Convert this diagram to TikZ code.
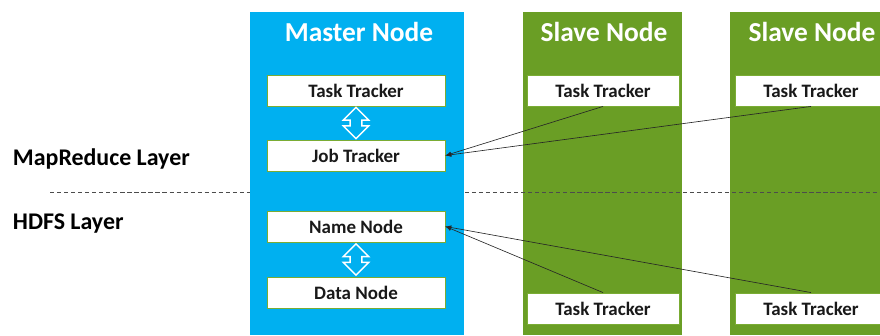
\documentclass[tikz,border=0pt]{standalone}
\usepackage{fontspec}
\setmainfont{Carlito}
\usetikzlibrary{shapes.arrows, calc}
\definecolor{MasterBlue}{RGB}{0, 176, 240}
\definecolor{SlaveGreen}{RGB}{106, 158, 37}
\definecolor{BoxLine}{RGB}{122, 172, 52}
\tikzset{
    box/.style = {draw = BoxLine, fill = white, line width = 0.6pt, minimum height = 0.775cm,
        inner sep = 0pt, font = \bfseries\fontsize{13.5}{15}\selectfont, text = black!90},
    masterbox/.style = {box, minimum width = 4.45cm},
    slavebox/.style = {box, minimum width = 3.8cm},
    title/.style = {text = white, font = \bfseries\fontsize{19.5}{22}\selectfont},
    layer/.style = {anchor = west, font = \bfseries\fontsize{17}{19}\selectfont},
    twoway/.style = {double arrow, draw = white, fill = MasterBlue, line width = 1pt, rotate = 90,
        minimum height = 0.78cm, inner sep = 0.13cm, double arrow head extend = 0.17cm},
    link/.style = {-latex, line width = 0.45pt, black!85}
}

\begin{document}
\begin{tikzpicture}[x = 0.025cm, y = -0.025cm]
            \useasboundingbox (0, 0) rectangle (880, 335);
            %画从节点列
            \fill[SlaveGreen] (523, 12) rectangle (682, 335);
            \fill[SlaveGreen] (730, 12) rectangle (880, 335);
            %分层虚线
            \draw[densely dashed, black!70, line width = 0.5pt] (50, 192) -- (880, 192);
            %画主节点列
            \fill[MasterBlue] (250, 12) rectangle (464, 335);
            %标题
            \node[title] (mtitle) at (359, 32) {Master Node};
            \node[title] (s1title) at (604, 32) {Slave Node};
            \node[title] (s2title) at (812, 32) {Slave Node};
            %主节点方框
            \node[masterbox] (mtask) at (356, 90.5) {Task Tracker};
            \node[masterbox] (job) at (356, 155.5) {Job Tracker};
            \node[masterbox] (name) at (356, 226.5) {Name Node};
            \node[masterbox] (data) at (356, 292.5) {Data Node};
            \node[twoway] (arrA) at ($(mtask.south)!0.5!(job.north)$) {};
            \node[twoway] (arrB) at ($(name.south)!0.5!(data.north)$) {};
            %从节点方框
            \node[slavebox] (s1top) at (603, 90.5) {Task Tracker};
            \node[slavebox] (s1bot) at (603, 308.5) {Task Tracker};
            \node[slavebox] (s2top) at (811, 90.5) {Task Tracker};
            \node[slavebox] (s2bot) at (811, 308.5) {Task Tracker};
            %连线
            \draw[link] (s1top.south) -- (job.east);
            \draw[link] (s2top.south) -- (job.east);
            \draw[link] (s1bot.north) -- (name.east);
            \draw[link] (s2bot.north) -- (name.east);
            %标注层
            \node[layer] (mrlayer) at (8, 159) {MapReduce Layer};
            \node[layer] (hdfslayer) at (8, 224) {HDFS Layer};
        \end{tikzpicture}
\end{document}
